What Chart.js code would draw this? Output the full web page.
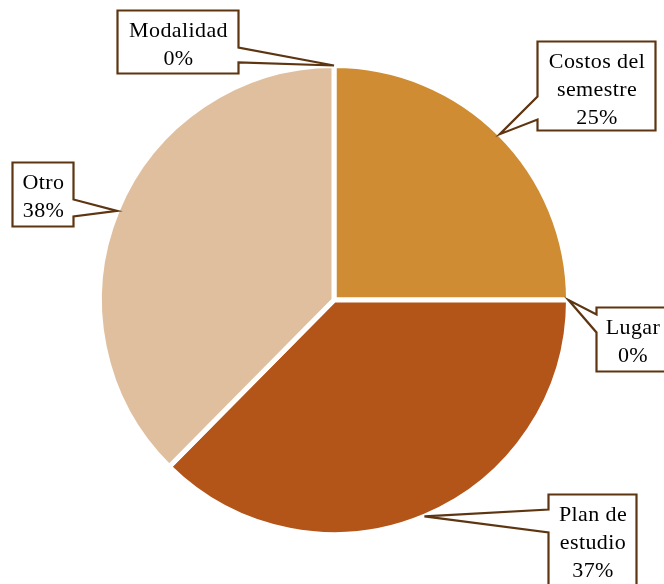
<!DOCTYPE html>
<html>
<head>
<meta charset="utf-8">
<script src="https://cdn.jsdelivr.net/npm/chart.js@4.4.0/dist/chart.umd.min.js"></script>
<style>
  html, body { margin: 0; padding: 0; background: #fff; }
  #wrap { width: 664px; height: 584px; }
</style>
</head>
<body>
<div id="wrap"><canvas id="pie" width="664" height="584"></canvas></div>
<script>
const categories = ['Costos del semestre', 'Lugar', 'Plan de estudio', 'Otro', 'Modalidad'];
const values = [25, 0, 37.4, 37.6, 0];
const labelLines = [['Costos del', 'semestre'], ['Lugar'], ['Plan de', 'estudio'], ['Otro'], ['Modalidad']];
const sliceColors = ['#CF8C32', '#C0C0C0', '#B35518', '#E0BF9E', '#A0A0A0'];

// callout boxes, relative to the tip on the slice edge
const callouts = [
    { dx: 37, dy: -93, w: 118, h: 89, side: 'left', w0: 55, w1: 78 },
    { dx: 27, dy: 7, w: 72, h: 64, side: 'left', w0: 7, w1: 25 },
    { dx: 124, dy: -22, w: 88, h: 100, side: 'left', w0: 15, w1: 38 },
    { dx: -105, dy: -49, w: 61, h: 64, side: 'right', w0: 37, w1: 54 },
    { dx: -217, dy: -56, w: 121, h: 63, side: 'right', w0: 37, w1: 52 }
];

const total = values.reduce((a, b) => a + b, 0);

const calloutPlugin = {
    id: 'callouts',
    afterDatasetsDraw(chart) {
        const ctx = chart.ctx;
        const arcs = chart.getDatasetMeta(0).data;
        ctx.save();
        arcs.forEach((arc, i) => {
            const p = arc.getProps(['x', 'y', 'startAngle', 'endAngle', 'outerRadius'], true);
            const mid = (p.startAngle + p.endAngle) / 2;
            const tx = p.x + Math.cos(mid) * p.outerRadius;
            const ty = p.y + Math.sin(mid) * p.outerRadius;
            const c = callouts[i];
            const left = Math.round(tx + c.dx) + 0.5;
            const top = Math.round(ty + c.dy) + 0.5;
            const right = left + c.w;
            const bottom = top + c.h;

            ctx.beginPath();
            ctx.moveTo(left, top);
            ctx.lineTo(right, top);
            if (c.side === 'right') {
                ctx.lineTo(right, top + c.w0);
                ctx.lineTo(tx, ty);
                ctx.lineTo(right, top + c.w1);
            }
            ctx.lineTo(right, bottom);
            ctx.lineTo(left, bottom);
            if (c.side === 'left') {
                ctx.lineTo(left, top + c.w1);
                ctx.lineTo(tx, ty);
                ctx.lineTo(left, top + c.w0);
            }
            ctx.closePath();
            ctx.fillStyle = '#ffffff';
            ctx.fill();
            ctx.lineWidth = 2.2;
            ctx.strokeStyle = '#5E3511';
            ctx.lineJoin = 'miter';
            ctx.stroke();

            const lines = labelLines[i].concat([Math.round(values[i] / total * 100) + '%']);
            ctx.fillStyle = '#000000';
            ctx.font = '22px "Liberation Serif", "Times New Roman", serif';
            ctx.letterSpacing = '0.4px';
            ctx.textAlign = 'center';
            ctx.textBaseline = 'alphabetic';
            const cx = left + c.w / 2 + 0.5;
            lines.forEach((t, k) => {
                ctx.fillText(t, cx, top + 26.5 + k * 28);
            });
        });
        ctx.restore();
    }
};

new Chart(document.getElementById('pie').getContext('2d'), {
    type: 'pie',
    data: {
        labels: categories,
        datasets: [{
            data: values,
            backgroundColor: sliceColors,
            borderColor: '#ffffff',
            borderWidth: 5
        }]
    },
    options: {
        responsive: false,
        animation: false,
        layout: {
            padding: { left: 97, right: 93, top: 63, bottom: 47 }
        },
        plugins: {
            legend: { display: false },
            tooltip: { enabled: false }
        }
    },
    plugins: [calloutPlugin]
});
</script>
</body>
</html>
